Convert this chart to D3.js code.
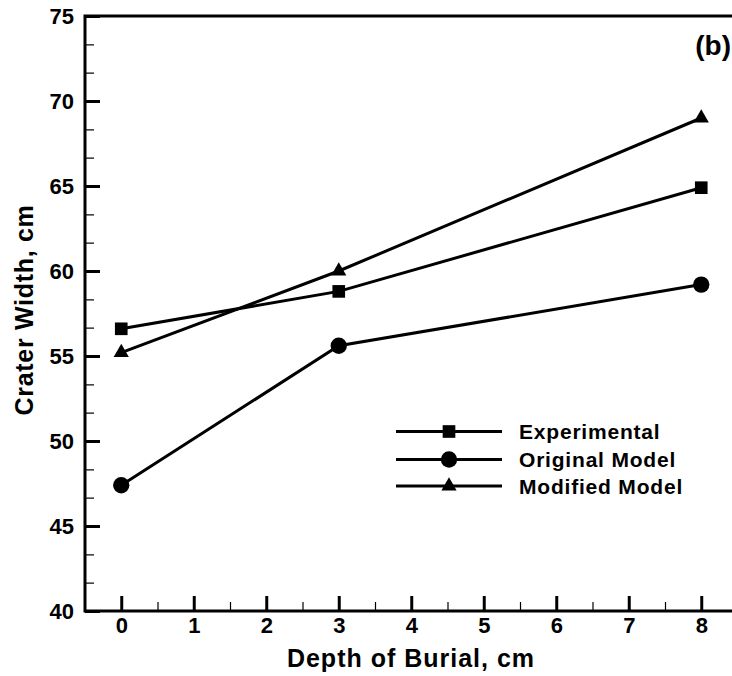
<!DOCTYPE html>
<html>
<head>
<meta charset="utf-8">
<script src="https://cdn.jsdelivr.net/npm/d3@7"></script>
<style>
  html, body { margin: 0; padding: 0; background: #fff; }
  svg { display: block; }
  text { font-family: "Liberation Sans", Arial, Helvetica, sans-serif; font-weight: bold; fill: #000; }
</style>
</head>
<body>
<svg id="chart" width="732" height="676"></svg>
<script>
// Crater width versus depth of burial
const depths = [0, 3, 8];
const experimental = [56.6, 58.8, 64.9];
const originalModel = [47.4, 55.6, 59.2];
const modifiedModel = [55.2, 60.0, 69.0];
const seriesNames = ["Experimental", "Original Model", "Modified Model"];
const xTickValues = [0, 1, 2, 3, 4, 5, 6, 7, 8];
const xMinorValues = [0.5, 1.5, 2.5, 3.5, 4.5, 5.5, 6.5, 7.5];
const yTickValues = [40, 45, 50, 55, 60, 65, 70, 75];
const yMinorValues = [41.67, 43.33, 46.67, 48.33, 51.67, 53.33, 56.67, 58.33, 61.67, 63.33, 66.67, 68.33, 71.67, 73.33];
const panelLabel = "(b)";

const svg = d3.select("#chart");
const plotLeft = 85, plotTop = 16, plotBottom = 611, plotRight = 732;

const x = d3.scaleLinear().domain([-0.5, 8.5]).range([plotLeft, 737.5]);
const y = d3.scaleLinear().domain([40, 75]).range([plotBottom, plotTop]);

// Minor ticks
svg.append("g").attr("transform", `translate(0,${plotBottom})`)
  .call(d3.axisBottom(x).tickValues(xMinorValues).tickSize(-9).tickFormat(""))
  .call(g => g.select(".domain").remove())
  .call(g => g.selectAll("line").attr("stroke", "#000").attr("stroke-width", 1.2));
svg.append("g").attr("transform", `translate(${plotLeft},0)`)
  .call(d3.axisLeft(y).tickValues(yMinorValues).tickSize(-9).tickFormat(""))
  .call(g => g.select(".domain").remove())
  .call(g => g.selectAll("line").attr("stroke", "#000").attr("stroke-width", 1.2));

// Major ticks with labels
svg.append("g").attr("transform", `translate(0,${plotBottom})`)
  .call(d3.axisBottom(x).tickValues(xTickValues).tickSize(-15).tickPadding(0).tickFormat(d3.format("d")))
  .call(g => g.select(".domain").remove())
  .call(g => g.selectAll("line").attr("stroke", "#000").attr("stroke-width", 3))
  .call(g => g.selectAll("text").attr("y", 22).attr("dy", 0)
      .style("font-size", "22px").attr("text-anchor", "middle"));
svg.append("g").attr("transform", `translate(${plotLeft},0)`)
  .call(d3.axisLeft(y).tickValues(yTickValues).tickSize(-15).tickPadding(0).tickFormat(d3.format("d")))
  .call(g => g.select(".domain").remove())
  .call(g => g.selectAll("line").attr("stroke", "#000").attr("stroke-width", 3))
  .call(g => g.selectAll("text").attr("x", -11).attr("dy", "0.36em")
      .style("font-size", "22px").attr("text-anchor", "end"));

// Frame lines
svg.append("path")
  .attr("d", `M${plotRight},${plotTop}H${plotLeft}V${plotBottom}H${plotRight}`)
  .attr("fill", "none").attr("stroke", "#000").attr("stroke-width", 3);

// Axis titles
svg.append("text").attr("x", 411).attr("y", 667).attr("text-anchor", "middle")
  .style("font-size", "25px").style("letter-spacing", "1px").text("Depth of Burial, cm");
svg.append("text").attr("transform", "translate(33,310) rotate(-90)").attr("text-anchor", "middle")
  .style("font-size", "25px").style("letter-spacing", "0.7px").text("Crater Width, cm");

svg.append("text").attr("x", 731).attr("y", 55).attr("text-anchor", "end")
  .style("font-size", "28px").text(panelLabel);

// Series
const series = [
  { name: seriesNames[0], values: experimental, symbol: d3.symbolSquare, size: 160 },
  { name: seriesNames[1], values: originalModel, symbol: d3.symbolCircle, size: 210 },
  { name: seriesNames[2], values: modifiedModel, symbol: d3.symbolTriangle, size: 100 }
];

const line = d3.line().x((d, i) => x(depths[i])).y(d => y(d));

series.forEach(s => {
  svg.append("path").datum(s.values)
    .attr("d", line).attr("fill", "none").attr("stroke", "#000").attr("stroke-width", 3);
  svg.selectAll(null).data(s.values).enter().append("path")
    .attr("transform", (d, i) => `translate(${x(depths[i])},${y(d)})`)
    .attr("d", d3.symbol().type(s.symbol).size(s.size))
    .attr("fill", "#000");
});

// Legend
const legendRows = [431.5, 459.5, 486];
series.forEach((s, i) => {
  const g = svg.append("g").attr("transform", `translate(0,${legendRows[i]})`);
  g.append("line").attr("x1", 396).attr("x2", 502).attr("y1", 0).attr("y2", 0)
    .attr("stroke", "#000").attr("stroke-width", 3);
  g.append("path").attr("transform", "translate(449,0)")
    .attr("d", d3.symbol().type(s.symbol).size(s.size)).attr("fill", "#000");
  g.append("text").attr("x", 519).attr("y", 0).attr("dy", "0.36em")
    .style("font-size", "21px").style("letter-spacing", "0.8px").text(s.name);
});
</script>
</body>
</html>
